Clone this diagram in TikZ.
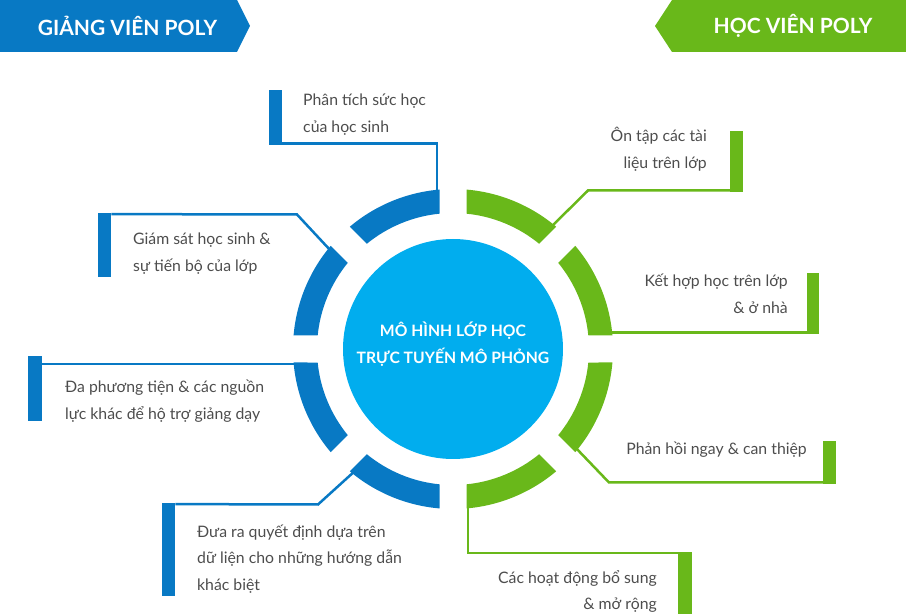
\documentclass[tikz,border=0pt]{standalone}
\usepackage{fontspec}
\setmainfont{Lato}
\definecolor{polyblue}{RGB}{8,121,196}
\definecolor{polygreen}{RGB}{105,184,26}
\definecolor{hubcyan}{RGB}{1,173,238}
\definecolor{labelgray}{RGB}{77,77,77}
\tikzset{
  bannertext/.style={text=white, font=\bfseries\fontsize{21}{25}\selectfont, inner sep=0pt},
  hubtext/.style={text=white, font=\bfseries\fontsize{15.7}{27}\selectfont, align=center, inner sep=0pt},
  lefttext/.style={text=labelgray, font=\fontsize{15.8}{26.5}\selectfont, align=left, anchor=base west, inner sep=0pt},
  righttext/.style={text=labelgray, font=\fontsize{15.8}{26.5}\selectfont, align=right, anchor=base east, inner sep=0pt},
  bluebar/.style={fill=polyblue, draw=none, inner sep=0pt, anchor=south west},
  greenbar/.style={fill=polygreen, draw=none, inner sep=0pt, anchor=south west},
  bluelink/.style={draw=polyblue, line width=2.5pt},
  greenlink/.style={draw=polygreen, line width=2.5pt},
}
% one ring segment between angles #1 and #2, with parallel-sided gaps
\newcommand{\ringpiece}[3]{%
  \fill[#3] ([shift={(#1+4.84:160)}]hub.center) arc[start angle=#1+4.84, end angle=#2-4.84, radius=160]
    -- ([shift={(#2-5.70:136)}]hub.center) arc[start angle=#2-5.70, end angle=#1+5.70, radius=136] -- cycle;}
\begin{document}
\begin{tikzpicture}[x=1pt, y=1pt]
\useasboundingbox (0,0) rectangle (906,614);

% header banners
\fill[polyblue] (0,614) -- (237,614) -- (250,588) -- (237,562) -- (0,562) -- cycle;
\node[bannertext] (lecturers) at (127.5,588) {GIẢNG VIÊN POLY};
\fill[polygreen] (906,614) -- (672,614) -- (655,588) -- (672,562) -- (906,562) -- cycle;
\node[bannertext] (students) at (793,588) {HỌC VIÊN POLY};

% hub centre (drawn later, positioned now)
\coordinate (hub) at (453,265);

% bars beside the labels
\node[bluebar, minimum width=13pt, minimum height=55pt] (bar1) at (269,469) {};
\node[bluebar, minimum width=13pt, minimum height=64pt] (bar2) at (98,337) {};
\node[bluebar, minimum width=14pt, minimum height=65pt] (bar3) at (28,193) {};
\node[bluebar, minimum width=13pt, minimum height=93pt] (bar4) at (162,18) {};
\node[greenbar, minimum width=13pt, minimum height=61pt] (bar5) at (730,422) {};
\node[greenbar, minimum width=12pt, minimum height=61pt] (bar6) at (807,280) {};
\node[greenbar, minimum width=13pt, minimum height=43pt] (bar7) at (823,130) {};
\node[greenbar, minimum width=14pt, minimum height=62pt] (bar8) at (678,0) {};

% connector ends, tucked under the ring
\coordinate (k1) at (437,418);
\coordinate (k2) at (331,363);
\coordinate (k3) at (300,250);
\coordinate (k4) at (356,144);
\coordinate (k5) at (549,385);
\coordinate (k6) at (605,281.5);
\coordinate (k7) at (574,168);
\coordinate (k8) at (468,112);

% connectors
\draw[bluelink] ([yshift=1.5pt]bar1.south east) -| (k1);
\draw[bluelink] ([yshift=-1.5pt]bar2.north east) -- (297,399.5) -- (k2);
\draw[bluelink] (bar3.east |- 0,250) -- (k3);
\draw[bluelink] ([yshift=-1.5pt]bar4.north east) -- (318,109.5) -- (k4);
\draw[greenlink] ([yshift=1.5pt]bar5.south west) -- (588,423.5) -- (k5);
\draw[greenlink] ([yshift=1.5pt]bar6.south west) -- (k6);
\draw[greenlink] ([yshift=1.5pt]bar7.south west) -- (609,131.5) -- (k7);
\draw[greenlink] ([yshift=-1.5pt]bar8.north west) -| (k8);

% segmented ring
\ringpiece{90}{135}{polyblue}
\ringpiece{135}{180}{polyblue}
\ringpiece{180}{225}{polyblue}
\ringpiece{225}{270}{polyblue}
\ringpiece{270}{315}{polygreen}
\ringpiece{315}{360}{polygreen}
\ringpiece{0}{45}{polygreen}
\ringpiece{45}{90}{polygreen}

% central disc
\fill[hubcyan] (hub) circle[radius=110];
\node[hubtext, anchor=base] (hubtitle) at (453,250.3) {MÔ HÌNH LỚP HỌC\\TRỰC TUYẾN MÔ PHỎNG};

% labels (base anchor sits on the last line)
\node[lefttext] (t1) at (303,481.5) {Phân tích sức học\\của học sinh};
\node[lefttext] (t2) at (133,342.5) {Giám sát học sinh \&\\sự tiến bộ của lớp};
\node[lefttext] (t3) at (65,194.5) {Đa phương tiện \& các nguồn\\lực khác để hộ trợ giảng dạy};
\node[lefttext] (t4) at (197,24) {Đưa ra quyết định dựa trên\\dữ liện cho những hướng dẫn\\khác biệt};
\node[righttext] (t5) at (707,445.5) {Ôn tập các tài\\liệu trên lớp};
\node[righttext] (t6) at (788,300.5) {Kết hợp học trên lớp\\\& ở nhà};
\node[righttext] (t7) at (807,159) {Phản hồi ngay \& can thiệp};
\node[righttext] (t8) at (657,4.5) {Các hoạt động bổ sung\\\& mở rộng};
\end{tikzpicture}
\end{document}
